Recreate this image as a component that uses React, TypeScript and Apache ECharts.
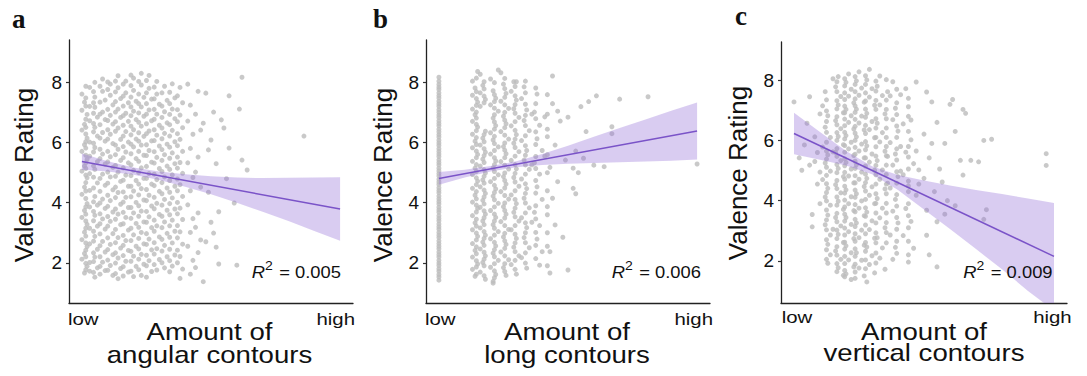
import React, { useEffect, useRef } from "react";
import * as echarts from "echarts";

// ---------- data ----------
const panelLetters = ["a", "b", "c"];
const xTitleLines = [
  ["Amount of", "angular contours"],
  ["Amount of", "long contours"],
  ["Amount of", "vertical contours"],
];
const yTitle = "Valence Rating";
const xTickLabels = ["low", "high"];
const yTickValues = [2, 4, 6, 8];
const r2Values = ["0.005", "0.006", "0.009"];

const angularPoints: [number, number][] = [
  [0.00,7.62],[0.01,7.35],[0.00,7.08],[0.02,6.94],[0.01,6.61],[0.00,6.42],[0.02,6.15],[0.01,5.93],[0.00,5.71],[0.02,5.44],[0.01,5.22],[0.00,5.05],[0.02,4.83],[0.01,4.52],[0.00,4.28],[0.02,3.97],[0.01,3.74],[0.00,3.51],[0.02,3.28],[0.01,3.02],[0.00,2.77],[0.02,2.54],[0.01,2.31],[0.00,2.12],[0.02,1.88],[0.01,1.66],
  [0.03,7.84],[0.03,7.21],[0.03,6.73],[0.03,6.02],[0.03,5.55],[0.03,4.97],[0.03,4.41],[0.03,3.86],[0.03,3.15],[0.03,2.63],[0.03,2.01],[0.03,1.72],
  [0.05,8.01],[0.05,7.52],[0.05,7.18],[0.06,6.85],[0.05,6.51],[0.06,6.22],[0.05,5.84],[0.06,5.37],[0.05,5.11],[0.06,4.66],[0.05,4.21],[0.06,3.92],[0.05,3.58],[0.06,3.22],[0.05,2.88],[0.06,2.45],[0.05,2.19],[0.06,1.83],[0.05,1.52],
  [0.08,8.12],[0.08,7.71],[0.09,7.42],[0.08,7.02],[0.09,6.77],[0.08,6.34],[0.09,6.05],[0.08,5.62],[0.09,5.29],[0.08,4.95],[0.09,4.58],[0.08,4.12],[0.09,3.81],[0.08,3.46],[0.09,3.12],[0.08,2.71],[0.09,2.36],[0.08,2.02],[0.09,1.74],
  [0.11,7.95],[0.11,7.58],[0.12,7.26],[0.11,6.91],[0.12,6.62],[0.11,6.28],[0.12,5.97],[0.11,5.53],[0.12,5.18],[0.11,4.86],[0.12,4.43],[0.11,4.07],[0.12,3.69],[0.11,3.38],[0.12,2.97],[0.11,2.61],[0.12,2.27],[0.11,1.91],[0.12,1.58],
  [0.14,8.23],[0.14,7.83],[0.15,7.47],[0.14,7.12],[0.15,6.84],[0.14,6.49],[0.15,6.11],[0.14,5.78],[0.15,5.41],[0.14,5.02],[0.15,4.71],[0.14,4.34],[0.15,3.95],[0.14,3.62],[0.15,3.27],[0.14,2.84],[0.15,2.49],[0.14,2.16],[0.15,1.81],[0.14,1.47],
  [0.17,8.05],[0.17,7.66],[0.18,7.33],[0.17,6.98],[0.18,6.71],[0.17,6.37],[0.18,6.02],[0.17,5.69],[0.18,5.33],[0.17,4.92],[0.18,4.55],[0.17,4.18],[0.18,3.84],[0.17,3.51],[0.18,3.09],[0.17,2.74],[0.18,2.41],[0.17,2.05],[0.18,1.69],
  [0.20,8.15],[0.20,7.74],[0.21,7.38],[0.20,7.05],[0.21,6.77],[0.20,6.43],[0.21,6.12],[0.20,5.86],[0.21,5.47],[0.20,5.08],[0.21,4.74],[0.20,4.39],[0.21,4.01],[0.20,3.66],[0.21,3.31],[0.20,2.93],[0.21,2.55],[0.20,2.22],[0.21,1.88],[0.20,1.54],
  [0.23,8.31],[0.23,7.92],[0.24,7.51],[0.23,7.19],[0.24,6.88],[0.23,6.55],[0.24,6.21],[0.23,5.92],[0.24,5.58],[0.23,5.16],[0.24,4.81],[0.23,4.47],[0.24,4.09],[0.23,3.72],[0.24,3.36],[0.23,3.01],[0.24,2.63],[0.23,2.28],[0.24,1.95],[0.23,1.58],
  [0.26,8.24],[0.26,7.81],[0.27,7.45],[0.26,7.09],[0.27,6.73],[0.26,6.39],[0.27,6.06],[0.26,5.74],[0.27,5.35],[0.26,4.97],[0.27,4.62],[0.26,4.25],[0.27,3.89],[0.26,3.53],[0.27,3.17],[0.26,2.79],[0.27,2.43],[0.26,2.07],[0.27,1.71],
  [0.29,8.04],[0.29,7.62],[0.30,7.28],[0.29,6.95],[0.30,6.58],[0.29,6.25],[0.30,5.89],[0.29,5.51],[0.30,5.14],[0.29,4.77],[0.30,4.38],[0.29,3.98],[0.30,3.61],[0.29,3.23],[0.30,2.86],[0.29,2.47],[0.30,2.11],[0.29,1.76],
  [0.32,7.88],[0.33,7.41],[0.32,7.03],[0.33,6.66],[0.32,6.31],[0.33,5.95],[0.32,5.60],[0.33,5.22],[0.32,4.86],[0.33,4.49],[0.32,4.11],[0.33,3.75],[0.32,3.36],[0.33,2.98],[0.32,2.58],[0.33,2.20],[0.32,1.83],
  [0.35,7.96],[0.36,7.49],[0.35,7.12],[0.36,6.80],[0.35,6.41],[0.36,6.03],[0.35,5.66],[0.36,5.30],[0.35,4.93],[0.36,4.55],[0.35,4.16],[0.36,3.79],[0.35,3.42],[0.36,3.05],[0.35,2.66],[0.36,2.26],[0.35,1.89],
  [0.38,7.84],[0.39,7.33],[0.38,6.92],[0.39,6.50],[0.38,6.11],[0.39,5.71],[0.38,5.34],[0.39,4.98],[0.38,4.60],[0.39,4.21],[0.38,3.82],[0.39,3.44],[0.38,3.03],[0.39,2.62],[0.38,2.21],[0.39,1.79],[0.38,1.48],
  [0.41,7.95],[0.42,7.25],[0.41,6.72],[0.43,6.28],[0.42,5.81],[0.41,5.33],[0.43,4.84],[0.42,4.40],[0.41,3.93],[0.43,3.47],[0.42,3.01],[0.41,2.55],[0.43,2.08],[0.42,1.62],
  [0.45,7.71],[0.44,6.95],[0.46,6.42],[0.45,5.52],[0.44,5.02],[0.46,4.52],[0.45,3.66],[0.44,3.18],[0.46,2.76],[0.45,2.34],[0.44,1.84],
  [0.48,7.65],[0.47,6.65],[0.50,6.09],[0.49,5.76],[0.51,7.02],[0.55,6.49],[0.57,7.56],[0.61,7.12],[0.62,8.18],[0.57,5.82],[0.62,5.42],[0.64,5.09],[0.56,4.80],[0.59,3.99],[0.53,3.70],[0.51,2.99],[0.52,2.52],[0.53,1.96],[0.47,1.37],[0.60,1.92],[0.54,6.76],[0.86,6.22],[0.49,4.35],[0.52,5.30],[0.50,3.35],[0.48,2.70],
];
const angularExtraX = [0.015, 0.045, 0.07, 0.10, 0.13, 0.16, 0.19, 0.22, 0.25, 0.28, 0.31, 0.34, 0.37];
const angularExtraY = [
  [7.88,7.49,7.22,6.78,6.51,6.29,6.03,5.82,5.58,5.33,5.14,4.92,4.67,4.39,4.14,3.86,3.62,3.39,3.15,2.89,2.66,2.42,2.20,1.98,1.77],
  [7.70,7.33,6.98,6.64,6.36,5.98,5.69,5.23,4.85,4.49,4.03,3.71,3.40,3.05,2.72,2.33,2.04,1.68],
  [7.88,7.35,6.95,6.60,6.15,5.78,5.47,4.81,4.38,3.99,3.63,3.30,2.96,2.57,2.20,1.88,1.62],
  [8.02,7.77,7.11,6.74,6.43,6.12,5.71,5.36,5.02,4.65,4.25,3.88,3.54,3.22,2.83,2.44,2.09,1.75],
  [8.05,7.69,7.37,7.02,6.70,6.38,5.92,5.60,5.24,4.88,4.52,4.17,3.79,3.45,3.11,2.67,2.33,1.99,1.64],
  [7.95,7.55,7.22,6.90,6.58,6.22,5.87,5.50,5.16,4.75,4.36,4.02,3.68,3.30,2.91,2.58,2.24,1.87,1.56],
  [8.25,7.90,7.52,7.19,6.90,6.55,6.26,5.95,5.63,5.26,4.90,4.55,4.20,3.84,3.48,3.15,2.74,2.38,2.05,1.72],
  [8.04,7.62,7.30,6.99,6.68,6.33,6.05,5.71,5.38,5.00,4.62,4.26,3.90,3.55,3.18,2.81,2.46,2.12,1.77],
  [8.07,7.66,7.30,6.95,6.63,6.30,5.93,5.57,5.21,4.81,4.44,4.07,3.71,3.35,2.97,2.61,2.25,1.90,1.52],
  [7.85,7.46,7.11,6.78,6.43,6.07,5.70,5.32,4.95,4.57,4.18,3.80,3.42,3.05,2.67,2.29,1.94],
  [7.66,7.22,6.84,6.49,6.13,5.77,5.41,5.04,4.67,4.30,3.92,3.55,3.17,2.78,2.39,2.00],
  [7.68,7.30,6.94,6.60,6.22,5.85,5.48,5.11,4.74,4.35,3.97,3.60,3.23,2.85,2.45,2.07,1.70],
  [7.56,7.10,6.70,6.30,5.90,5.52,5.15,4.79,4.40,4.01,3.63,3.24,2.83,2.42,2.00],
];

const longLowColumn: number[] = [
  1.42,1.53,1.61,1.72,1.80,1.91,1.99,2.08,2.19,2.27,2.36,2.47,2.55,2.64,2.73,2.84,2.92,3.01,3.12,3.20,3.29,3.40,3.48,3.57,3.68,3.76,3.85,3.96,4.04,4.13,4.22,4.33,4.41,4.50,4.61,4.69,4.78,4.89,4.97,5.06,5.15,5.26,5.34,5.43,5.54,5.62,5.71,5.80,5.91,5.99,6.08,6.19,6.27,6.36,6.45,6.56,6.64,6.73,6.84,6.92,7.01,7.10,7.21,7.29,7.38,7.49,7.57,7.66,7.77,7.85,7.94,8.05,8.18,
];

const longPoints: [number, number][] = [
  [0.13,8.05],[0.14,7.82],[0.13,7.58],[0.15,7.35],[0.13,7.12],[0.14,6.93],[0.13,6.71],[0.15,6.52],[0.13,6.28],[0.14,6.05],[0.13,5.83],[0.15,5.61],[0.13,5.38],[0.14,5.15],[0.13,4.94],[0.15,4.72],[0.13,4.48],[0.14,4.25],[0.13,4.02],[0.15,3.81],[0.13,3.57],[0.14,3.33],[0.13,3.10],[0.15,2.88],[0.13,2.64],[0.14,2.41],[0.13,2.19],[0.15,1.96],[0.13,1.78],[0.14,1.55],
  [0.16,8.28],[0.17,7.91],[0.16,7.66],[0.18,7.44],[0.16,7.21],[0.18,6.38],[0.17,6.15],[0.16,5.92],[0.18,5.68],[0.17,5.45],[0.16,5.22],[0.18,4.99],[0.17,4.76],[0.16,4.53],[0.18,4.31],[0.17,4.08],[0.16,3.85],[0.18,3.62],[0.17,3.39],[0.16,3.16],[0.18,2.92],[0.17,2.69],[0.16,2.46],[0.18,2.23],[0.17,2.01],[0.16,1.69],[0.18,1.45],
  [0.20,8.12],[0.21,7.73],[0.22,7.48],[0.20,7.26],[0.23,7.05],[0.21,6.82],[0.22,6.57],[0.20,6.33],[0.21,6.09],[0.23,5.86],[0.20,5.62],[0.22,5.39],[0.21,5.16],[0.23,4.93],[0.20,4.70],[0.22,4.46],[0.21,4.22],[0.23,3.98],[0.20,3.74],[0.22,3.51],[0.21,3.27],[0.23,3.04],[0.20,2.80],[0.22,2.56],[0.21,2.32],[0.23,2.08],[0.20,1.85],[0.22,1.61],[0.21,1.38],
  [0.24,8.33],[0.25,7.95],[0.26,7.64],[0.24,7.38],[0.27,7.14],[0.25,6.88],[0.26,6.63],[0.24,6.37],[0.27,6.12],[0.25,5.87],[0.26,5.63],[0.24,5.37],[0.27,5.12],[0.25,4.87],[0.26,4.62],[0.24,4.37],[0.27,4.12],[0.25,3.87],[0.26,3.62],[0.24,3.37],[0.27,3.11],[0.25,2.86],[0.26,2.61],[0.24,2.36],[0.27,2.10],[0.25,1.84],[0.26,1.58],
  [0.29,8.03],[0.28,7.71],[0.30,7.42],[0.29,7.13],[0.31,6.84],[0.28,6.56],[0.30,6.27],[0.29,5.98],[0.31,5.70],[0.28,5.41],[0.30,5.13],[0.29,4.84],[0.31,4.55],[0.28,4.26],[0.30,3.97],[0.29,3.68],[0.31,3.39],[0.28,3.10],[0.30,2.81],[0.29,2.52],[0.31,2.23],[0.28,1.94],[0.30,1.62],
  [0.33,7.86],[0.32,7.47],[0.34,7.09],[0.33,6.74],[0.35,6.40],[0.32,6.07],[0.34,5.74],[0.33,5.42],[0.35,5.11],[0.32,4.79],[0.34,4.47],[0.33,4.15],[0.35,3.83],[0.32,3.50],[0.34,3.17],[0.33,2.84],[0.35,2.50],[0.32,2.17],[0.34,1.82],[0.36,6.95],[0.36,5.26],[0.36,3.35],
  [0.38,7.62],[0.37,7.02],[0.39,6.58],[0.38,6.13],[0.40,5.74],[0.37,5.33],[0.39,4.95],[0.38,4.53],[0.40,4.11],[0.37,3.68],[0.39,3.24],[0.38,2.79],[0.40,2.37],[0.39,1.92],[0.41,6.86],[0.41,5.55],
  [0.44,8.22],[0.44,7.30],[0.42,6.45],[0.45,5.92],[0.43,5.18],[0.46,4.70],[0.42,3.87],[0.45,3.26],[0.43,2.37],[0.43,1.66],[0.42,1.90],[0.47,6.72],[0.46,7.05],[0.44,4.15],
  [0.49,5.42],[0.52,5.15],[0.54,5.00],[0.52,4.48],[0.53,4.30],[0.55,7.20],[0.58,7.37],[0.61,7.56],[0.57,6.37],[0.50,6.85],[0.53,5.72],[0.48,2.85],[0.50,1.76],[0.56,5.48],[0.60,5.25],
  [0.67,6.53],[0.67,6.30],[0.81,7.53],[1.00,5.29],[0.70,7.45],[0.64,5.20],[0.21,1.32],[0.15,8.37],[0.23,8.42],[0.30,8.03],
];
const longExtraX = [0.145, 0.175, 0.215, 0.255, 0.295, 0.335, 0.375, 0.42];
const longExtraY = [
  [8.15,7.70,7.47,7.24,7.02,6.82,6.61,6.40,6.17,5.94,5.72,5.50,5.27,5.04,4.83,4.60,4.37,4.13,3.92,3.69,3.45,3.22,2.99,2.76,2.53,2.30,2.07,1.86,1.62],
  [8.03,7.79,7.55,7.33,6.27,6.03,5.80,5.57,5.34,5.10,4.88,4.65,4.42,4.19,3.96,3.73,3.50,3.27,3.04,2.81,2.58,2.35,2.12,1.90,1.57],
  [8.00,7.60,7.37,7.15,6.93,6.69,6.45,6.21,5.97,5.74,5.50,5.27,5.04,4.81,4.58,4.34,4.10,3.86,3.62,3.39,3.15,2.92,2.68,2.44,2.20,1.97,1.73,1.50],
  [8.14,7.80,7.51,7.26,7.01,6.75,6.50,6.25,5.99,5.75,5.50,5.25,4.99,4.74,4.49,4.24,3.99,3.74,3.49,3.24,2.98,2.73,2.48,2.23,1.97,1.71],
  [7.87,7.56,7.27,6.98,6.70,6.41,6.12,5.84,5.55,5.27,4.98,4.69,4.40,4.11,3.82,3.53,3.24,2.95,2.66,2.37,2.08,1.78],
  [8.05,7.66,7.28,6.91,6.57,6.23,5.90,5.58,5.26,4.95,4.63,4.31,3.99,3.66,3.33,3.00,2.67,2.33,1.99],
  [7.82,7.30,6.80,6.36,5.94,5.54,5.14,4.74,4.32,3.90,3.46,3.01,2.58,2.14],
  [7.60,6.95,6.20,5.60,5.00,4.40,3.60,3.00,2.55],
];

const verticalPoints: [number, number][] = [
  [0.00,7.28],[0.03,5.01],[0.02,5.42],[0.05,6.57],[0.04,5.85],[0.06,5.18],[0.07,3.54],[0.07,3.13],[0.08,6.12],[0.09,5.60],[0.06,7.45],[0.09,4.55],[0.10,6.88],[0.10,4.95],[0.08,5.30],[0.10,3.90],
  [0.12,7.62],[0.11,7.15],[0.13,6.82],[0.12,6.44],[0.14,6.10],[0.11,5.78],[0.13,5.52],[0.12,5.25],[0.14,4.98],[0.11,4.70],[0.13,4.41],[0.12,4.12],[0.14,3.85],[0.13,3.52],[0.12,3.20],[0.14,2.86],[0.13,2.55],[0.14,2.20],[0.13,1.92],[0.15,8.05],[0.15,5.62],[0.15,3.05],
  [0.17,8.12],[0.16,7.78],[0.18,7.46],[0.17,7.18],[0.19,6.92],[0.16,6.66],[0.18,6.39],[0.17,6.13],[0.19,5.86],[0.16,5.60],[0.18,5.33],[0.17,5.07],[0.19,4.80],[0.16,4.53],[0.18,4.26],[0.17,3.98],[0.19,3.71],[0.16,3.44],[0.18,3.16],[0.17,2.88],[0.19,2.61],[0.16,2.33],[0.18,2.05],[0.17,1.77],[0.19,1.52],
  [0.21,8.21],[0.20,7.93],[0.22,7.70],[0.21,7.47],[0.23,7.25],[0.20,7.03],[0.22,6.82],[0.21,6.60],[0.23,6.38],[0.20,6.16],[0.22,5.94],[0.21,5.72],[0.23,5.50],[0.20,5.27],[0.22,5.05],[0.21,4.82],[0.23,4.59],[0.20,4.36],[0.22,4.13],[0.21,3.90],[0.23,3.67],[0.20,3.44],[0.22,3.21],[0.21,2.97],[0.23,2.74],[0.20,2.50],[0.22,2.27],[0.21,2.03],[0.23,1.80],[0.20,1.57],[0.22,1.38],
  [0.25,8.28],[0.24,7.98],[0.26,7.74],[0.25,7.50],[0.27,7.27],[0.24,7.04],[0.26,6.81],[0.25,6.58],[0.27,6.35],[0.24,6.12],[0.26,5.88],[0.25,5.65],[0.27,5.42],[0.24,5.19],[0.26,4.95],[0.25,4.71],[0.27,4.47],[0.24,4.23],[0.26,3.99],[0.25,3.75],[0.27,3.50],[0.24,3.26],[0.26,3.02],[0.25,2.77],[0.27,2.52],[0.24,2.27],[0.26,2.02],[0.25,1.76],[0.27,1.50],[0.28,1.30],
  [0.29,8.36],[0.28,8.01],[0.30,7.72],[0.29,7.44],[0.31,7.17],[0.28,6.90],[0.30,6.63],[0.29,6.36],[0.31,6.09],[0.28,5.82],[0.30,5.55],[0.29,5.28],[0.31,5.01],[0.28,4.74],[0.30,4.46],[0.29,4.18],[0.31,3.90],[0.28,3.62],[0.30,3.33],[0.29,3.04],[0.31,2.75],[0.28,2.46],[0.30,2.17],[0.29,1.88],[0.31,1.60],
  [0.33,8.14],[0.32,7.80],[0.34,7.49],[0.33,7.18],[0.35,6.88],[0.32,6.57],[0.34,6.26],[0.33,5.95],[0.35,5.64],[0.32,5.33],[0.34,5.02],[0.33,4.71],[0.35,4.39],[0.32,4.07],[0.34,3.75],[0.33,3.43],[0.35,3.10],[0.32,2.77],[0.34,2.43],[0.33,2.09],[0.36,7.62],[0.36,5.47],[0.36,4.58],[0.35,1.72],
  [0.38,7.95],[0.37,7.48],[0.39,7.07],[0.38,6.69],[0.40,6.31],[0.37,5.93],[0.39,5.55],[0.38,5.18],[0.40,4.80],[0.37,4.42],[0.39,4.04],[0.38,3.65],[0.40,3.26],[0.37,2.86],[0.39,2.45],[0.38,2.05],[0.41,5.80],[0.41,4.98],[0.41,7.52],
  [0.43,7.72],[0.44,7.12],[0.42,6.55],[0.45,6.02],[0.43,5.61],[0.46,5.23],[0.42,4.86],[0.44,4.49],[0.47,4.18],[0.43,3.74],[0.45,3.31],[0.42,2.84],[0.46,2.42],[0.44,1.96],[0.47,7.94],[0.48,5.02],[0.47,5.65],[0.48,4.55],[0.45,6.68],
  [0.51,7.61],[0.53,7.28],[0.50,6.21],[0.52,5.42],[0.50,4.74],[0.54,4.30],[0.51,3.68],[0.51,2.85],[0.55,3.30],[0.55,1.80],[0.55,6.60],[0.58,5.90],[0.57,4.62],[0.59,4.00],[0.53,5.90],[0.56,5.05],[0.52,2.20],[0.58,3.55],[0.60,7.20],[0.61,7.36],
  [0.62,3.83],[0.64,5.34],[0.65,4.85],[0.65,7.03],[0.66,6.90],[0.68,5.34],[0.71,5.29],[0.73,6.00],[0.76,6.04],[0.74,3.70],[0.73,3.38],[0.97,5.56],[0.97,5.17],[0.62,6.30],
];
const verticalExtraX = [0.125, 0.165, 0.195, 0.235, 0.275, 0.315, 0.355, 0.395, 0.44];
const verticalExtraY = [
  [7.35,6.98,6.63,6.27,5.94,5.65,5.38,5.11,4.84,4.56,4.27,3.99,3.69,3.36,3.03,2.70,2.37,2.05],
  [7.95,7.62,7.32,7.05,6.79,6.52,6.26,6.00,5.73,5.47,5.20,4.93,4.67,4.40,4.12,3.85,3.58,3.30,3.02,2.74,2.47,2.19,1.91,1.64],
  [8.05,7.81,7.58,7.36,7.14,6.92,6.71,6.49,6.27,6.05,5.83,5.61,5.39,5.16,4.94,4.71,4.48,4.25,4.02,3.79,3.55,3.32,3.09,2.86,2.62,2.39,2.15,1.91,1.68,1.47],
  [8.12,7.86,7.62,7.38,7.15,6.93,6.70,6.47,6.24,6.00,5.77,5.54,5.31,5.07,4.83,4.59,4.35,4.11,3.87,3.63,3.38,3.14,2.90,2.65,2.40,2.15,1.89,1.63,1.42],
  [8.15,7.86,7.58,7.31,7.04,6.77,6.50,6.23,5.96,5.69,5.42,5.15,4.88,4.60,4.32,4.04,3.76,3.48,3.19,2.90,2.61,2.32,2.03,1.74],
  [7.97,7.64,7.33,7.03,6.72,6.41,6.10,5.79,5.48,5.17,4.86,4.55,4.23,3.91,3.59,3.26,2.93,2.60,2.26,1.93],
  [8.02,7.34,7.03,6.72,6.41,6.10,5.80,5.49,5.18,4.87,4.55,4.23,3.91,3.59,3.27,2.94,2.60],
  [7.70,7.25,6.86,6.48,6.10,5.72,5.35,4.96,4.58,4.20,3.82,3.44,3.05,2.65,2.25],
  [7.40,6.80,6.30,5.80,5.45,5.05,4.65,4.30,3.90,3.50,3.10,2.65,2.20],
];

const fitX = [0, 1];
const angularFit = [5.37, 3.79];
const longFit = [4.81, 6.39];
const verticalFit = [6.23, 2.15];

const bandX = [0, 0.1, 0.2, 0.3, 0.4, 0.5, 0.6, 0.7, 0.8, 0.9, 1.0];
const angularUpper = [5.64, 5.38, 5.17, 5.04, 4.95, 4.88, 4.84, 4.82, 4.83, 4.84, 4.85];
const angularLower = [5.10, 5.04, 4.93, 4.76, 4.53, 4.28, 4.00, 3.70, 3.39, 3.06, 2.73];
const longUpper = [5.02, 5.10, 5.22, 5.38, 5.62, 5.90, 6.20, 6.49, 6.77, 7.06, 7.34];
const longLower = [4.60, 4.84, 5.04, 5.18, 5.26, 5.30, 5.32, 5.35, 5.37, 5.40, 5.44];
const verticalUpper = [6.92, 6.28, 5.65, 5.14, 4.85, 4.67, 4.50, 4.35, 4.22, 4.07, 3.92];
const verticalLower = [5.54, 5.36, 5.17, 4.88, 4.35, 3.71, 3.06, 2.39, 1.72, 1.00, 0.35];

// ---------- layout / style ----------
const SANS = '"Liberation Sans", Arial, Helvetica, sans-serif';
const SERIF = '"Liberation Serif", "Times New Roman", serif';
const POINT_COLOR = "#bdbdbd";
const LINE_COLOR = "#7a53c8";
const BAND_COLOR = "rgba(150,115,215,0.36)";
const TEXT_COLOR = "#111";

const panels = [
  {
    grid: { left: 69, top: 40, width: 284, height: 263 }, yMin: 0.66, yMax: 9.42,
    letter: [12, 19], yTitle: [24.3, 175], low: [68, 319.5], high: [355, 319.5],
    title: [209.5, 332, 355], r2: [251.7, 272],
  },
  {
    grid: { left: 426, top: 40, width: 284, height: 263 }, yMin: 0.66, yMax: 9.42,
    letter: [373, 19], yTitle: [383.3, 175], low: [425, 319.5], high: [713, 319.5],
    title: [567, 332, 355], r2: [611.7, 272],
  },
  {
    grid: { left: 781, top: 42, width: 286, height: 261 }, yMin: 0.6, yMax: 9.27,
    letter: [735, 15.5], yTitle: [738, 173], low: [781.7, 317.5], high: [1071.7, 317.5],
    title: [924, 332, 353], r2: [963.3, 272],
  },
];

function columns(xs: number[], ys: number[][]): [number, number][] {
  const out: [number, number][] = [];
  xs.forEach((x, i) => ys[i].forEach((y) => out.push([x, y])));
  return out;
}

const scatterData = [
  [...angularPoints, ...columns(angularExtraX, angularExtraY)],
  [...longLowColumn.map((v) => [0, v] as [number, number]), ...longPoints, ...columns(longExtraX, longExtraY)],
  [...verticalPoints, ...columns(verticalExtraX, verticalExtraY)],
];
const fits = [angularFit, longFit, verticalFit];
const bands = [
  [angularUpper, angularLower],
  [longUpper, longLower],
  [verticalUpper, verticalLower],
];

function text(
  str: string, x: number, y: number, font: string,
  align: string, extra: Record<string, unknown> = {}
) {
  return {
    type: "text", x, y, silent: true, z: 20, ...extra,
    style: { text: str, font, fill: TEXT_COLOR, align, verticalAlign: "middle" },
  };
}

function buildOption() {
  const grid: any[] = [];
  const xAxis: any[] = [];
  const yAxis: any[] = [];
  const series: any[] = [];
  const graphic: any[] = [];

  panels.forEach((p, i) => {
    grid.push({ ...p.grid, outerBoundsMode: "none", containLabel: false });
    xAxis.push({
      type: "value", gridIndex: i, min: -0.05, max: 1.05,
      axisLine: { show: true, onZero: false, lineStyle: { color: "#222", width: 1.3 } },
      axisTick: { show: false }, axisLabel: { show: false }, splitLine: { show: false },
    });
    yAxis.push({
      type: "value", gridIndex: i, min: p.yMin, max: p.yMax,
      axisLine: { show: true, onZero: false, lineStyle: { color: "#222", width: 1.3 } },
      axisTick: { show: true, length: 3, customValues: yTickValues, lineStyle: { color: "#333", width: 1.2 } },
      axisLabel: {
        show: true, customValues: yTickValues, margin: 7, fontSize: 19,
        fontFamily: SANS, color: TEXT_COLOR,
      },
      splitLine: { show: false },
    });
    series.push({
      type: "scatter", xAxisIndex: i, yAxisIndex: i, data: scatterData[i],
      symbol: "circle", symbolSize: 5, silent: true, z: 2,
      itemStyle: { color: POINT_COLOR, opacity: 0.82 },
    });
    const [upper, lower] = bands[i];
    series.push({
      type: "custom", xAxisIndex: i, yAxisIndex: i, clip: true, silent: true, z: 3,
      data: [[0, upper[0]]],
      renderItem: (_params: any, api: any) => {
        const pts: number[][] = [];
        bandX.forEach((x, k) => pts.push(api.coord([x, upper[k]])));
        for (let k = bandX.length - 1; k >= 0; k--) pts.push(api.coord([bandX[k], lower[k]]));
        return { type: "polygon", shape: { points: pts }, style: { fill: BAND_COLOR } };
      },
    });
    series.push({
      type: "line", xAxisIndex: i, yAxisIndex: i, silent: true, z: 4,
      data: fitX.map((x, k) => [x, fits[i][k]]),
      showSymbol: false, symbol: "none",
      lineStyle: { color: LINE_COLOR, width: 1.5 },
    });

    // texts
    graphic.push(text(panelLetters[i], p.letter[0], p.letter[1], `bold 27px ${SERIF}`, "left"));
    graphic.push(text(yTitle, p.yTitle[0], p.yTitle[1], `26px ${SANS}`, "center", { rotation: Math.PI / 2 }));
    graphic.push(text(xTickLabels[0], p.low[0], p.low[1], `17px ${SANS}`, "left", { scaleX: 1.2 }));
    graphic.push(text(xTickLabels[1], p.high[0], p.high[1], `17px ${SANS}`, "right", { scaleX: 1.2 }));
    graphic.push(text(xTitleLines[i][0], p.title[0], p.title[1], `24px ${SANS}`, "center", { scaleX: 1.15 }));
    graphic.push(text(xTitleLines[i][1], p.title[0], p.title[2], `24px ${SANS}`, "center", { scaleX: 1.15 }));
    graphic.push(text("R", p.r2[0], p.r2[1], `italic 17px ${SANS}`, "left", { scaleX: 1.08 }));
    graphic.push(text("2", p.r2[0] + 13.3, p.r2[1] - 6.5, `13px ${SANS}`, "left", { scaleX: 1.08 }));
    graphic.push(text(`= ${r2Values[i]}`, p.r2[0] + 27.5, p.r2[1], `17px ${SANS}`, "left", { scaleX: 1.08 }));
  });

  return { animation: false, backgroundColor: "#fff", grid, xAxis, yAxis, series, graphic };
}

export default function App() {
  const ref = useRef<HTMLDivElement>(null);
  useEffect(() => {
    if (!ref.current) return;
    const chart = echarts.init(ref.current, undefined, { renderer: "svg" });
    chart.setOption(buildOption() as any);
    return () => chart.dispose();
  }, []);
  return (
    <div
      ref={ref}
      style={{ position: "fixed", left: 0, top: 0, width: 1087, height: 376, background: "#fff" }}
    />
  );
}
